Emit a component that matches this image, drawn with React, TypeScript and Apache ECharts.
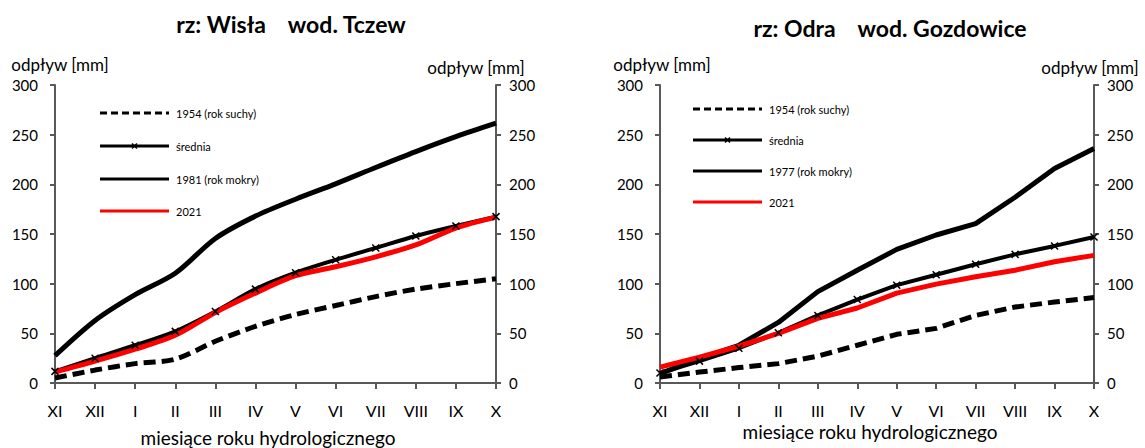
import React, { useEffect, useRef } from "react";
import * as echarts from "echarts";

const months = ["XI", "XII", "I", "II", "III", "IV", "V", "VI", "VII", "VIII", "IX", "X"];
const yTicks = { min: 0, max: 300, interval: 50 };

// Wisła – Tczew
const wislaNames = ["1954 (rok suchy)", "średnia", "1981 (rok mokry)", "2021"];
const wislaDry1954 = [5, 13, 19.5, 24, 42, 57, 69, 78, 87, 94.5, 100, 105];
const wislaMean = [11.7, 25, 38, 52, 72, 94.5, 111, 124, 136, 148, 158, 167.5];
const wislaWet1981 = [27.5, 63, 89, 110.5, 145.5, 168, 185, 200.5, 217, 233, 248, 261.5];
const wisla2021 = [11, 22, 34, 48, 71, 90.5, 108, 117, 127, 139, 156, 167];

// Odra – Gozdowice
const odraNames = ["1954 (rok suchy)", "średnia", "1977 (rok mokry)", "2021"];
const odraDry1954 = [6, 11, 15.5, 19.5, 27, 38, 49, 55, 68, 76.5, 81.5, 86];
const odraMean = [10, 22, 35, 50.5, 68, 84, 98.5, 109, 119.5, 129.5, 138, 147];
const odraWet1977 = [9.5, 24.5, 38, 61, 92, 113.5, 134.5, 149, 160.5, 187, 216, 236];
const odra2021 = [16, 26, 37, 50, 65, 75.5, 90.5, 99.5, 107, 113.5, 122, 128.5];

const titles = ["rz: Wisła\u00a0\u00a0\u00a0\u00a0wod. Tczew", "rz: Odra\u00a0\u00a0\u00a0\u00a0wod. Gozdowice"];
const yName = "odpływ [mm]";
const xName = "miesiące roku hydrologicznego";

const FONT = "Lato, 'Liberation Sans', sans-serif";
const AXIS_COLOR = "#595959";
const XMARK = "path://M0,0L10,10M10,0L0,10";

type Kind = "dry" | "mean" | "wet" | "y2021";
const kinds: Kind[] = ["dry", "mean", "wet", "y2021"];

export default function App() {
  const ref = useRef<HTMLDivElement>(null);
  useEffect(() => {
    if (!ref.current) return;
    const chart = echarts.init(ref.current, null, { renderer: "svg" });

    const yAxisBase = (gridIndex: number, position: "left" | "right") => ({
      type: "value",
      gridIndex,
      position,
      min: yTicks.min,
      max: yTicks.max,
      interval: yTicks.interval,
      splitLine: { show: false },
      axisLine: { show: true, lineStyle: { color: AXIS_COLOR, width: 2 } },
      axisTick: { show: true, length: 5, lineStyle: { color: AXIS_COLOR, width: 2 } },
      axisLabel: {
        color: "#000",
        fontSize: 15,
        fontFamily: FONT,
        margin: position === "left" ? 17 : 13,
      },
    });
    const xAxisBase = (gridIndex: number) => ({
      type: "category",
      gridIndex,
      data: months,
      boundaryGap: false,
      axisLine: { show: true, lineStyle: { color: AXIS_COLOR, width: 2 } },
      axisTick: { show: true, length: 6, lineStyle: { color: AXIS_COLOR, width: 2 } },
      axisLabel: { color: "#000", fontSize: 16, fontFamily: FONT, margin: 19, interval: 0 },
    });

    const mk = (name: string, data: number[], xi: number, yi: number, kind: Kind, smooth: boolean | number) => {
      const base: any = {
        name,
        type: "line",
        data,
        xAxisIndex: xi,
        yAxisIndex: yi,
        smooth,
        symbol: "none",
        z: 2,
      };
      if (kind === "dry") {
        base.lineStyle = { color: "#000", width: 5, type: [12, 6] };
      } else if (kind === "mean") {
        base.lineStyle = { color: "#000", width: 4 };
        base.symbol = XMARK;
        base.symbolSize = 7;
        base.showSymbol = true;
        base.itemStyle = { color: "#000", borderColor: "#000", borderWidth: 1.5 };
      } else if (kind === "wet") {
        base.lineStyle = { color: "#000", width: 5 };
      } else {
        base.lineStyle = { color: "#ff0000", width: 5 };
      }
      return base;
    };

    const txt = (x: number, y: number, text: string, size: number, bold = false, align = "center") => ({
      type: "text",
      x,
      y,
      silent: true,
      style: {
        text,
        fontSize: size,
        fontFamily: FONT,
        fontWeight: bold ? "bold" : "normal",
        fill: "#000",
        align,
        verticalAlign: "middle",
      },
    });

    const legendGraphics = (x0: number, rows: number[], names: string[]) => {
      const out: any[] = [];
      const len = 69;
      names.forEach((nm, i) => {
        const kind = kinds[i];
        const y = rows[i];
        out.push({
          type: "line",
          silent: true,
          shape: { x1: x0, y1: y, x2: x0 + len, y2: y },
          style: {
            stroke: kind === "y2021" ? "#ff0000" : "#000",
            lineWidth: 3,
            lineDash: kind === "dry" ? [7, 4] : null,
          },
        });
        if (kind === "mean") {
          const cx = x0 + len / 2;
          out.push({
            type: "line",
            silent: true,
            shape: { x1: cx - 2.5, y1: y - 2.5, x2: cx + 2.5, y2: y + 2.5 },
            style: { stroke: "#000", lineWidth: 1.5 },
          });
          out.push({
            type: "line",
            silent: true,
            shape: { x1: cx - 2.5, y1: y + 2.5, x2: cx + 2.5, y2: y - 2.5 },
            style: { stroke: "#000", lineWidth: 1.5 },
          });
        }
        out.push(txt(x0 + len + 7, y, nm, 11, false, "left"));
      });
      return out;
    };

    chart.setOption({
      animation: false,
      backgroundColor: "#fff",
      grid: [
        { left: 55, top: 85, width: 441, height: 298 },
        { left: 660, top: 85, width: 434, height: 298 },
      ],
      xAxis: [xAxisBase(0), xAxisBase(1)],
      yAxis: [yAxisBase(0, "left"), yAxisBase(0, "right"), yAxisBase(1, "left"), yAxisBase(1, "right")],
      series: [
        mk(wislaNames[0], wislaDry1954, 0, 0, "dry", 0.3),
        mk(wislaNames[1], wislaMean, 0, 0, "mean", 0.3),
        mk(wislaNames[2], wislaWet1981, 0, 0, "wet", 0.3),
        mk(wislaNames[3], wisla2021, 0, 0, "y2021", 0.3),
        mk(odraNames[0], odraDry1954, 1, 2, "dry", false),
        mk(odraNames[1], odraMean, 1, 2, "mean", false),
        mk(odraNames[2], odraWet1977, 1, 2, "wet", false),
        mk(odraNames[3], odra2021, 1, 2, "y2021", false),
      ],
      graphic: [
        txt(291, 24, titles[0], 23, true),
        txt(890, 28, titles[1], 23, true),
        txt(60, 64, yName, 17),
        txt(476, 67, yName, 17),
        txt(662, 64, yName, 17),
        txt(1090, 67, yName, 17),
        txt(268, 437, xName, 19),
        txt(870, 431, xName, 19),
        ...legendGraphics(100, [113, 146, 179, 211], wislaNames),
        ...legendGraphics(693, [109, 140, 171, 202], odraNames),
      ],
    });
    return () => chart.dispose();
  }, []);

  return (
    <div
      ref={ref}
      style={{ position: "fixed", left: 0, top: 0, width: 1145, height: 448, background: "#fff" }}
    />
  );
}
